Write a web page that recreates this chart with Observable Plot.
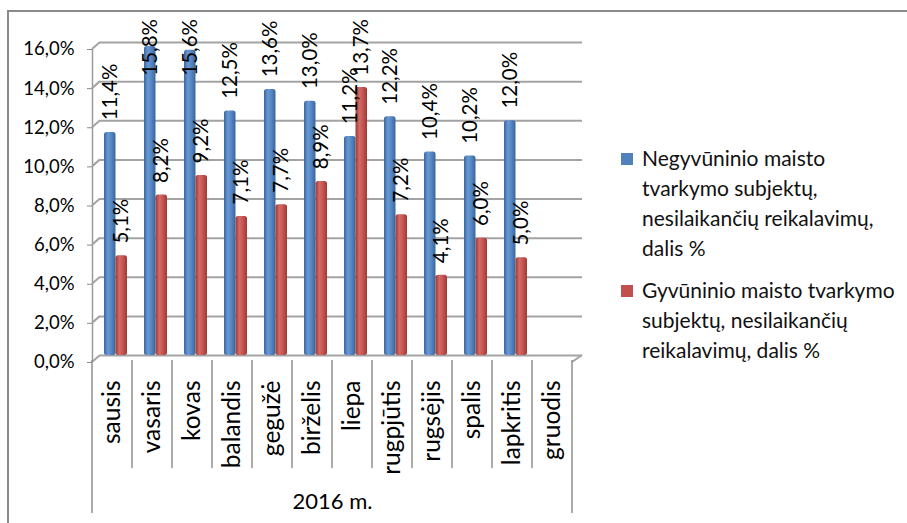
<!DOCTYPE html>
<html>
<head>
<meta charset="utf-8">
<script src="https://cdn.jsdelivr.net/npm/d3@7"></script>
<script src="https://cdn.jsdelivr.net/npm/@observablehq/plot@0.6"></script>
<style>
  html, body { margin: 0; padding: 0; background: #fff; }
  #wrap { position: relative; width: 907px; height: 523px; overflow: hidden; background: #fff; font-family: Lato, "Open Sans", sans-serif; }
  #wrap svg.plot { position: absolute; left: 0; top: 0; }
  .leg { position: absolute; left: 621px; font-size: 21px; line-height: 30px; color: #111; }
  .leg .sw { position: absolute; left: 0; width: 12px; height: 12px; }
  .leg .tx { position: absolute; left: 21px; white-space: nowrap; }
</style>
</head>
<body>
<div id="wrap"></div>
<script>
// ---- data ----
const months = ["sausis","vasaris","kovas","balandis","gegužė","birželis","liepa","rugpjūtis","rugsėjis","spalis","lapkritis","gruodis"];
const nonAnimal = [11.4, 15.8, 15.6, 12.5, 13.6, 13.0, 11.2, 12.2, 10.4, 10.2, 12.0, null];
const animal    = [5.1, 8.2, 9.2, 7.1, 7.7, 8.9, 13.7, 7.2, 4.1, 6.0, 5.0, null];
const yTicks = [0, 2, 4, 6, 8, 10, 12, 14, 16];
const yearLabel = "2016 m.";
const seriesLines = [
  ["Negyvūninio maisto", "tvarkymo subjektų,", "nesilaikančių reikalavimų,", "dalis %"],
  ["Gyvūninio maisto tvarkymo", "subjektų, nesilaikančių", "reikalavimų, dalis %"]
];
const seriesColors = ["#4F81BD", "#C0504D"];

// ---- tables ----
const rowsA = months.map((m, i) => ({i, m, v: nonAnimal[i]})).filter(d => d.v != null);
const rowsB = months.map((m, i) => ({i, m, v: animal[i]})).filter(d => d.v != null);
const fmt = v => v.toFixed(1).replace(".", ",") + "%";
const labelY = d => Math.min(d.v + 0.62, 14.3);

const plot = Plot.plot({
  width: 907, height: 523,
  marginLeft: 92, marginRight: 335, marginTop: 49, marginBottom: 161,
  x: {domain: [0, 12], axis: null},
  y: {domain: [0, 16], axis: null},
  style: {fontFamily: "Lato, 'Open Sans', sans-serif", background: "transparent", overflow: "visible"},
  marks: [
    // back wall gridlines (3D offset)
    Plot.ruleY(yTicks, {x1: 0, x2: 12, dx: 8, dy: -7, stroke: "#a3a3a3", strokeWidth: 2, insetRight: -2}),
    // front axis line
    Plot.ruleX([0], {y1: 0, y2: 16, stroke: "#9a9a9a", strokeWidth: 1.5}),
    Plot.axisY(yTicks, {tickSize: 5, tickPadding: 13, tickFormat: fmt, fontSize: 18.5, stroke: "#8a8a8a", fill: "#000", label: null}),
    // bars
    Plot.rectY(rowsA, {x1: d => d.i, x2: d => d.i + 1, y1: 0, y2: "v", insetLeft: 12, insetRight: 16.5, dy: -7, fill: "url(#gBlue)", rx: 2.5}),
    Plot.rectY(rowsB, {x1: d => d.i, x2: d => d.i + 1, y1: 0, y2: "v", insetLeft: 23.5, insetRight: 5, dy: -7, fill: "url(#gRed)", rx: 2.5}),
    // data labels
    Plot.text(rowsA, {x: d => d.i + 0.5, y: labelY, text: d => fmt(d.v), dx: -2.25, dy: -7, rotate: -90, textAnchor: "start", fontSize: 20.5, fill: "#000"}),
    Plot.text(rowsB, {x: d => d.i + 0.5, y: labelY, text: d => fmt(d.v), dx: 9.25, dy: -7, rotate: -90, textAnchor: "start", fontSize: 20.5, fill: "#000"}),
    // category labels
    Plot.text(months, {x: (d, i) => i + 0.5, y: 0, dy: 18, rotate: -90, textAnchor: "end", fontSize: 24.5, fill: "#000"}),
    Plot.text([yearLabel], {x: 6, y: 0, dy: 139, fontSize: 22, fill: "#000"})
  ]
});
plot.classList.add("plot");
document.getElementById("wrap").appendChild(plot);

// gradients for the cylinder-like bars
const svg = d3.select(plot);
const defs = svg.insert("defs", ":first-child");
function grad(id, dark, mid, light) {
  const g = defs.append("linearGradient").attr("id", id).attr("x1", "0%").attr("x2", "100%").attr("y1", "0%").attr("y2", "0%");
  g.append("stop").attr("offset", "0%").attr("stop-color", dark);
  g.append("stop").attr("offset", "35%").attr("stop-color", light);
  g.append("stop").attr("offset", "70%").attr("stop-color", mid);
  g.append("stop").attr("offset", "100%").attr("stop-color", dark);
}
grad("gBlue", "#3a659c", "#4f81bd", "#6a9ad6");
grad("gRed", "#9b3a37", "#c0504d", "#d46a66");

// 3D frame decorations, placed through the plot's scales
const xs = plot.scale("x"), ys = plot.scale("y");
const deco = svg.append("g").attr("stroke", "#a3a3a3").attr("stroke-width", 2).attr("fill", "none");
const x0 = xs.apply(0), x12 = xs.apply(12), y0 = ys.apply(0);
yTicks.forEach(t => {
  const y = ys.apply(t);
  deco.append("line").attr("x1", x0).attr("y1", y).attr("x2", x0 + 8).attr("y2", y - 7);
});
deco.append("line").attr("x1", x12 + 10).attr("y1", y0 - 7).attr("x2", x12).attr("y2", y0);
const sep = svg.append("g").attr("stroke", "#8f8f8f").attr("stroke-width", 1.5);
d3.range(13).forEach(i => {
  const x = xs.apply(i);
  const outer = (i === 0 || i === 12);
  sep.append("line").attr("x1", x).attr("x2", x).attr("y1", y0 - 2).attr("y2", outer ? y0 + 151 : y0 + 106);
});
// chart area border (top + left)
const bord = svg.append("g").attr("stroke", "#8a8a8a").attr("stroke-width", 2).attr("fill", "none");
bord.append("path").attr("d", `M8,523 L8,11 L907,11`);

// legend
const wrap = document.getElementById("wrap");
const tops = [142.5, 274.5];
seriesLines.forEach((lines, k) => {
  const item = document.createElement("div");
  item.className = "leg";
  item.style.top = tops[k] + "px";
  const sw = document.createElement("div");
  sw.className = "sw";
  sw.style.background = seriesColors[k];
  sw.style.top = "10px";
  const tx = document.createElement("div");
  tx.className = "tx";
  lines.forEach((l, j) => {
    if (j) tx.appendChild(document.createElement("br"));
    tx.appendChild(document.createTextNode(l));
  });
  item.appendChild(sw);
  item.appendChild(tx);
  wrap.appendChild(item);
});
</script>
</body>
</html>
